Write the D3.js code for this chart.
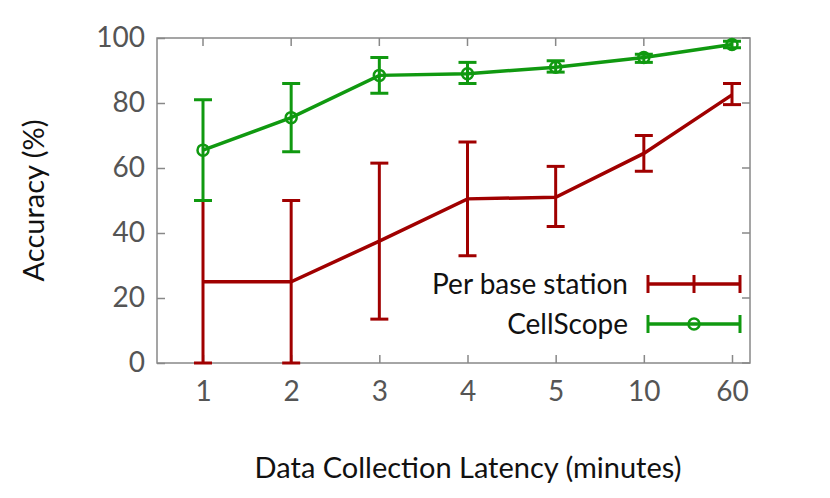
<!DOCTYPE html>
<html><head><meta charset="utf-8">
<script src="https://cdn.jsdelivr.net/npm/d3@7"></script>
<style>body{margin:0;background:#fff}</style>
</head><body>
<svg id="c" width="830" height="498"></svg>
<script>
const categories = ["1","2","3","4","5","10","60"];
const perBase = [25,25,37.5,50.5,51,64.5,82.5];
const perBaseLo = [0,0,13.5,33,42,59,79.5];
const perBaseHi = [50,50,61.5,68,60.5,70,86];
const cell = [65.5,75.5,88.5,89,91,94,98];
const cellLo = [50,65,83,86,89.5,92.5,97];
const cellHi = [81,86,94,92.5,93,95,99];
const yTicks = [0,20,40,60,80,100];

const svg = d3.select("#c");
const L=157,R=750,T=38,B=363;
const x = d3.scalePoint().domain(categories).range([203,732]);
const y = d3.scaleLinear().domain([0,100]).range([B,T]);
const font = "Lato, 'Open Sans', sans-serif";

svg.append("rect").attr("x",L).attr("y",T).attr("width",R-L).attr("height",B-T)
  .attr("fill","none").attr("stroke","#888").attr("stroke-width",1.5);

const gy = svg.append("g").attr("transform",`translate(${L},0)`)
  .call(d3.axisLeft(y).tickValues(yTicks).tickSize(-8).tickPadding(12));
const gx = svg.append("g").attr("transform",`translate(0,${B})`)
  .call(d3.axisBottom(x).tickSize(-8).tickPadding(18));
[gy,gx].forEach(g=>{
  g.select(".domain").remove();
  g.selectAll("line").attr("stroke","#888").attr("stroke-width",1.5);
  g.selectAll("text").attr("font-family",font).attr("font-size",28).attr("fill","#555");
});
yTicks.forEach(v=>svg.append("line").attr("x1",R).attr("x2",R-8).attr("y1",y(v)).attr("y2",y(v)).attr("stroke","#888").attr("stroke-width",1.5));
categories.forEach(c=>svg.append("line").attr("x1",x(c)).attr("x2",x(c)).attr("y1",T).attr("y2",T+8).attr("stroke","#888").attr("stroke-width",1.5));

svg.append("text").attr("x",468).attr("y",478).attr("text-anchor","middle")
  .attr("font-family",font).attr("font-size",29).attr("fill","#111").text("Data Collection Latency (minutes)");
svg.append("text").attr("transform",`translate(44,${(T+B)/2}) rotate(-90)`).attr("text-anchor","middle")
  .attr("font-family",font).attr("font-size",29).attr("fill","#111").text("Accuracy (%)");

function series(vals,lo,hi,color,circle){
  const g=svg.append("g");
  g.append("path").datum(vals).attr("fill","none").attr("stroke",color).attr("stroke-width",3.5)
    .attr("d",d3.line().x((d,i)=>x(categories[i])).y(d=>y(d)));
  vals.forEach((v,i)=>{
    const cx=x(categories[i]);
    g.append("line").attr("x1",cx).attr("x2",cx).attr("y1",y(lo[i])).attr("y2",y(hi[i])).attr("stroke",color).attr("stroke-width",3);
    [lo[i],hi[i]].forEach(e=>g.append("line").attr("x1",cx-9).attr("x2",cx+9).attr("y1",y(e)).attr("y2",y(e)).attr("stroke",color).attr("stroke-width",3));
    if(circle) g.append("circle").attr("cx",cx).attr("cy",y(v)).attr("r",5.5).attr("fill","none").attr("stroke",color).attr("stroke-width",2.5);
  });
}
series(perBase,perBaseLo,perBaseHi,"#a00000",false);
series(cell,cellLo,cellHi,"#109910",true);

function legend(yy,label,color,circle){
  svg.append("text").attr("x",628).attr("y",yy+10).attr("text-anchor","end")
    .attr("font-family",font).attr("font-size",28).attr("fill","#111").text(label);
  svg.append("line").attr("x1",648).attr("x2",740).attr("y1",yy).attr("y2",yy).attr("stroke",color).attr("stroke-width",3.5);
  [648,740].forEach(xx=>svg.append("line").attr("x1",xx).attr("x2",xx).attr("y1",yy-9).attr("y2",yy+9).attr("stroke",color).attr("stroke-width",3));
  if(circle) svg.append("circle").attr("cx",694).attr("cy",yy).attr("r",5.5).attr("fill","none").attr("stroke",color).attr("stroke-width",2.5);
  else svg.append("line").attr("x1",694).attr("x2",694).attr("y1",yy-9).attr("y2",yy+9).attr("stroke",color).attr("stroke-width",3);
}
legend(284,"Per base station","#a00000",false);
legend(324,"CellScope","#109910",true);
</script>
</body></html>
